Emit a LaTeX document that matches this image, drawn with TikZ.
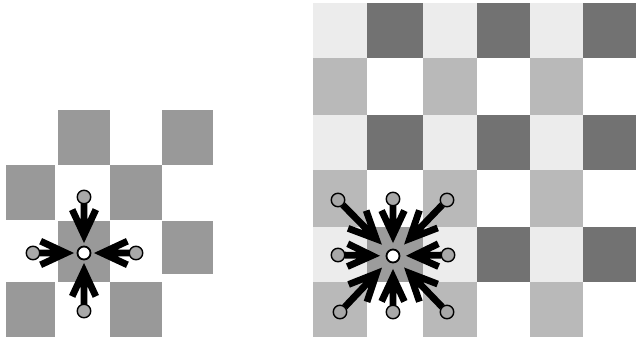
\documentclass[tikz,border=0pt]{standalone}
\usetikzlibrary{calc}
\definecolor{leftgray}{HTML}{999999}
\definecolor{vlight}{HTML}{ECECEC}
\definecolor{lgray}{HTML}{B9B9B9}
\definecolor{dgray}{HTML}{727272}
\definecolor{mgray}{HTML}{9C9C9C}
\definecolor{dotgray}{HTML}{A8A8A8}
\begin{document}
\begin{tikzpicture}[x=1pt,y=-1pt,
  dot/.style={circle,draw=black,line width=1.4pt,fill=dotgray,minimum size=13.5pt,inner sep=0pt},
  hub/.style={circle,draw=black,line width=1.8pt,fill=white,minimum size=13pt,inner sep=0pt},
  tipgap/.store in=\tipgap, tipgap=18pt,
  barb/.store in=\barblen, barb=30pt,
  pull/.style={line width=6.8pt,miter limit=20,line join=miter,line cap=butt,
    to path={
      ($(\tikztotarget)!\tipgap!(\tikztostart)$) coordinate (pT)
      ($(\tikztostart)!7pt!(\tikztotarget)$) -- (pT)
      ($(pT)!\barblen!25:(\tikztostart)$) -- (pT) -- ($(pT)!\barblen!-25:(\tikztostart)$)
    }},
]
\useasboundingbox (0,0) rectangle (636,343);
% ---------------- left grid ----------------
\fill[leftgray] (58,110) rectangle (110,165);
\fill[leftgray] (162,110) rectangle (213,165);
\fill[leftgray] (6,165) rectangle (55,220);
\fill[leftgray] (110,165) rectangle (162,220);
\fill[leftgray] (58,221) rectangle (110,282);
\fill[leftgray] (162,221) rectangle (213,274);
\fill[leftgray] (6,282) rectangle (55,337);
\fill[leftgray] (110,282) rectangle (162,337);
% ---------------- right grid ----------------
\foreach \ya/\yb in {3/58,115/170,227/282}{
  \foreach \xa/\xb in {313/367,423/477,530/583}{
    \fill[vlight] (\xa,\ya) rectangle (\xb,\yb);}
  \foreach \xa/\xb in {367/423,477/530,583/636}{
    \fill[dgray] (\xa,\ya) rectangle (\xb,\yb);}
}
\foreach \ya/\yb in {58/115,170/227,282/337}{
  \foreach \xa/\xb in {313/367,423/477,530/583}{
    \fill[lgray] (\xa,\ya) rectangle (\xb,\yb);}
}
\fill[mgray] (367,227) rectangle (423,282);
% ---------------- left star ----------------
\node[hub] (lc) at (84,253) {};
\node[dot] (lt) at (84,197) {};
\node[dot] (lb) at (84,311) {};
\node[dot] (ll) at (33,253) {};
\node[dot] (lr) at (136,253) {};
\foreach \n in {lt,lb,ll,lr}{
  \draw[pull,tipgap=18pt,barb=28pt] (\n) to (lc);}
% ---------------- right star ----------------
\node[hub] (rc) at (393,256) {};
\node[dot] (rt)  at (393,199) {};
\node[dot] (rb)  at (393,312) {};
\node[dot] (rl)  at (338,255) {};
\node[dot] (rr)  at (448,255) {};
\node[dot] (rtl) at (338,200) {};
\node[dot] (rtr) at (447,200) {};
\node[dot] (rbl) at (340,312) {};
\node[dot] (rbr) at (447,312) {};
\foreach \n in {rt,rb,rl,rr}{
  \draw[pull,tipgap=21pt,barb=27pt] (\n) to (rc);}
\foreach \n in {rtl,rtr,rbl,rbr}{
  \draw[pull,tipgap=24pt,barb=30pt] (\n) to (rc);}
\end{tikzpicture}
\end{document}
